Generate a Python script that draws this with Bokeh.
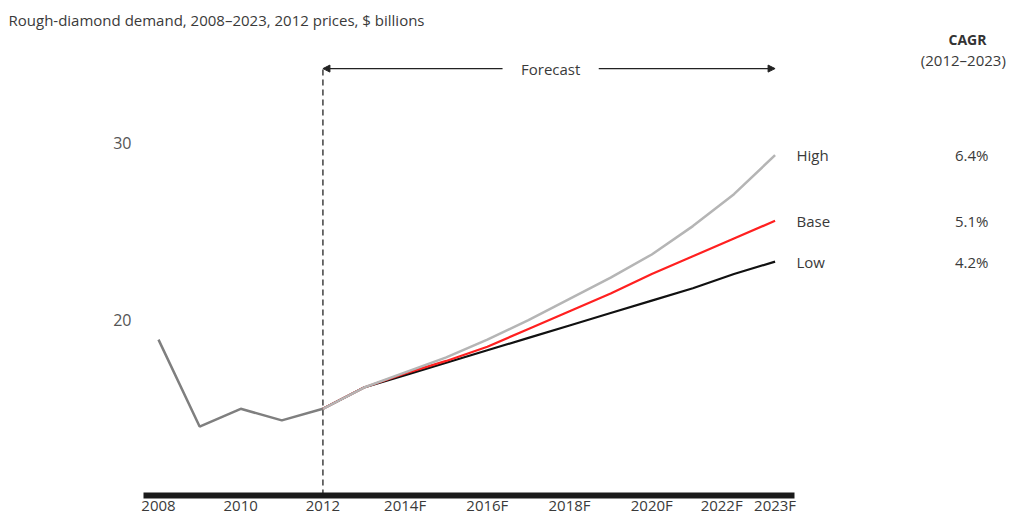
from bokeh.plotting import figure
from bokeh.models import (Range1d, FixedTicker, Arrow, NormalHead, ColumnDataSource)
from bokeh.core.properties import value
from bokeh.embed import file_html
from bokeh.resources import INLINE

# ---- data ----
hist_years = [2008, 2009, 2010, 2011, 2012]
hist_values = [18.9, 14.0, 15.0, 14.35, 15.0]

fc_years = [2012, 2013, 2014, 2015, 2016, 2017, 2018, 2019, 2020, 2021, 2022, 2023]
high_values = [15.0, 16.2, 17.05, 17.9, 18.9, 20.0, 21.2, 22.4, 23.7, 25.3, 27.1, 29.3]
base_values = [15.0, 16.2, 17.0, 17.7, 18.5, 19.5, 20.5, 21.5, 22.6, 23.6, 24.6, 25.6]
low_values = [15.0, 16.2, 16.9, 17.6, 18.3, 19.0, 19.7, 20.4, 21.1, 21.8, 22.6, 23.3]

scenario_names = ["High", "Base", "Low"]
scenario_cagr = ["6.4%", "5.1%", "4.2%"]

# the 2022F label sits slightly left of its year, as in the source, to leave a gap before 2023F
x_ticks = [2008, 2010, 2012, 2014, 2016, 2018, 2020, 2021.7, 2023]
x_tick_labels = ["2008", "2010", "2012", "2014F", "2016F", "2018F", "2020F", "2022F", "2023F"]
y_ticks = [20, 30]

forecast_start = 2012
forecast_end = 2023

title_text = "Rough-diamond demand, 2008\u20132023, 2012 prices, $ billions"
FONT = "Open Sans"
TXT = "#3a3a3a"

X0, X1 = 2007.635, 2028.80
Y0, Y1 = 10.113, 36.44

p = figure(width=1013, height=517, output_backend="svg", toolbar_location=None,
           x_range=Range1d(X0, X1), y_range=Range1d(Y0, Y1),
           min_border_left=143, min_border_right=0, min_border_top=28, min_border_bottom=0)
p.title.text = title_text
p.title.align = "left"
p.title.offset = -135
p.title.text_font = FONT
p.title.text_font_size = "15px"
p.title.text_font_style = "normal"
p.title.text_color = TXT
p.title.standoff = -3
p.outline_line_color = None
p.background_fill_color = "white"
p.border_fill_color = "white"
p.xgrid.visible = False
p.ygrid.visible = False

# x axis
xa = p.xaxis[0]
xa.ticker = FixedTicker(ticks=x_ticks)
xa.major_label_overrides = {t: l for t, l in zip(x_ticks, x_tick_labels)}
xa.axis_line_width = 6
xa.axis_line_color = "#1a1a1a"
xa.bounds = (X0, 2023.47)
xa.major_tick_line_color = None
xa.minor_tick_line_color = None
xa.major_label_standoff = -7
xa.major_label_text_font = FONT
xa.major_label_text_font_size = "15px"
xa.major_label_text_color = TXT

ya = p.yaxis[0]
ya.ticker = FixedTicker(ticks=y_ticks)
ya.axis_line_color = None
ya.major_tick_line_color = None
ya.minor_tick_line_color = None
ya.major_label_standoff = 6
ya.major_label_text_font = FONT
ya.major_label_text_font_size = "16px"
ya.major_label_text_color = "#555555"

# forecast markers
arrow_y = 34.18
p.segment(x0=[forecast_start], y0=[Y0], x1=[forecast_start], y1=[arrow_y],
          line_color="#222222", line_width=1.3, line_dash="6 4")
head = dict(size=7, fill_color="#222222", line_color="#222222")
p.add_layout(Arrow(end=NormalHead(**head), x_start=2016.37, y_start=arrow_y,
                   x_end=forecast_start, y_end=arrow_y, line_color="#222222", line_width=1.2))
p.add_layout(Arrow(end=NormalHead(**head), x_start=2018.71, y_start=arrow_y,
                   x_end=forecast_end, y_end=arrow_y, line_color="#222222", line_width=1.2))
p.text(x=[2017.54], y=[arrow_y], text=["Forecast"], text_font=value(FONT),
       text_font_size="15px", text_color=TXT, text_align="center", text_baseline="middle")

# lines
p.line(hist_years, hist_values, line_color="#7f7f7f", line_width=2.5)
p.line(fc_years, low_values, line_color="#111111", line_width=2.2)
p.line(fc_years, base_values, line_color="#ff2020", line_width=2.2)
p.line(fc_years, high_values, line_color="#b5b5b5", line_width=2.5)

# end labels
ends = [high_values[-1], base_values[-1], low_values[-1]]
src = ColumnDataSource(dict(x=[2023.52] * 3, xr=[2028.19] * 3, y=ends,
                            name=scenario_names, cagr=scenario_cagr))
p.text(x="x", y="y", text="name", source=src, text_font=value(FONT), text_font_size="15px",
       text_color=TXT, text_align="left", text_baseline="middle")
p.text(x="xr", y="y", text="cagr", source=src, text_font=value(FONT), text_font_size="15px",
       text_color=TXT, text_align="right", text_baseline="middle")

p.text(x=[2027.68], y=[35.82], text=["CAGR"], text_font=value(FONT), text_font_size="14px",
       text_font_style="bold", text_color="#333333", text_align="center", text_baseline="middle")
p.text(x=[2027.58], y=[34.69], text=["(2012\u20132023)"], text_font=value(FONT),
       text_font_size="15px", text_color=TXT, text_align="center", text_baseline="middle")

open("out.html", "w").write(file_html(p, INLINE))
